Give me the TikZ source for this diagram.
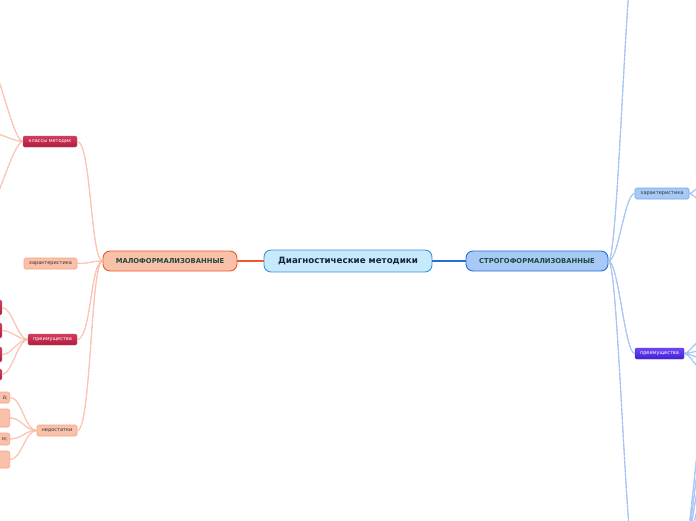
\documentclass[tikz,border=0pt]{standalone}
\usepackage{fontspec}
\setmainfont{DejaVu Sans}
\definecolor{rootfill}{HTML}{C6E9FB}
\definecolor{rootline}{HTML}{3C93D8}
\definecolor{rootink}{HTML}{16243F}
\definecolor{greenink}{HTML}{1F4A3B}
\definecolor{salmon}{HTML}{F9C0AA}
\definecolor{salmonline}{HTML}{F7A385}
\definecolor{orangeline}{HTML}{EC5A2C}
\definecolor{skyfill}{HTML}{A6C9F5}
\definecolor{skyline}{HTML}{2A6CD6}
\definecolor{twigblue}{HTML}{78A6EE}
\definecolor{crimsontop}{HTML}{D43C5E}
\definecolor{crimsonbot}{HTML}{AE1D3B}
\definecolor{violettop}{HTML}{6E48F0}
\definecolor{violetbot}{HTML}{4520D6}
\tikzset{
  root/.style={draw=rootline, fill=rootfill, line width=0.9pt, rounded corners=7pt,
    minimum width=168pt, minimum height=22pt, inner sep=0pt, text=rootink,
    font=\fontsize{8.7}{10}\selectfont\bfseries},
  mainl/.style={draw=orangeline, fill=salmon, line width=0.9pt, rounded corners=7pt,
    minimum height=20pt, inner sep=0pt, text=greenink,
    font=\fontsize{6.8}{8}\selectfont\bfseries},
  mainr/.style={mainl, draw=skyline, fill=skyfill},
  leaf/.style={rounded corners=1.5pt, minimum height=11pt, inner sep=0pt,
    font=\fontsize{5}{6}\selectfont},
  leafred/.style={leaf, top color=crimsontop, bottom color=crimsonbot, draw=crimsonbot!80!white,
    text=white},
  leafpale/.style={leaf, fill=salmon, draw=salmonline, line width=0.6pt, text=black!80},
  leafblue/.style={leaf, fill=skyfill, draw=twigblue, line width=0.6pt, text=black!80},
  leafviolet/.style={leaf, top color=violettop, bottom color=violetbot, draw=violetbot, text=white},
  cutleaf/.style={leafpale, text width=36pt, align=right, inner xsep=2pt, anchor=east},
  twigl/.style={draw=salmonline, line width=0.35pt, double=salmon!40!white, double distance=0.35pt},
  twigr/.style={draw=twigblue, line width=0.35pt, double=skyfill!40!white, double distance=0.35pt},
}

\begin{document}
\begin{tikzpicture}[x=1pt, y=-1pt]
  \useasboundingbox (0,0) rectangle (696,520);
  \clip (0,0) rectangle (696,520);

  \node[root] (diag) at (348,261) {Диагностические методики};
  \node[mainl, minimum width=134pt] (malo) at (170,261) {МАЛОФОРМАЛИЗОВАННЫЕ};
  \node[mainr, minimum width=142pt] (strogo) at (537,261) {СТРОГОФОРМАЛИЗОВАННЫЕ};

  \draw[orangeline, line width=1.2pt] (diag.west) -- (malo.east);
  \draw[skyline, line width=1.2pt] (diag.east) -- (strogo.west);

  % left branch
  \node[leafred, minimum width=54pt] (klassy) at (50,141.5) {классы методик};
  \node[leafpale, minimum width=53pt] (harl) at (50.5,263.5) {характеристика};
  \node[leafred, minimum width=49pt] (preiml) at (52.5,339.5) {преимущества};
  \node[leafpale, minimum width=40pt] (nedost) at (57,430.5) {недостатки};

  \foreach \n in {klassy,harl,preiml,nedost}
    \draw[twigl] (malo.west) .. controls +(-12,0) and +(14,0) .. (\n.east);

  \coordinate (km1) at (-14,55);
  \coordinate (km2) at (-14,131);
  \coordinate (km3) at (-14,212);
  \foreach \n in {km1,km2,km3}
    \draw[twigl] (klassy.west) .. controls +(-10,0) and +(10,0) .. (\n);

  \node[leafred, minimum width=40pt, minimum height=15pt, anchor=east] (pr1) at (2,307.5) {};
  \node[leafred, minimum width=40pt, minimum height=15pt, anchor=east] (pr2) at (2,330.5) {};
  \node[leafred, minimum width=40pt, minimum height=15pt, anchor=east] (pr3) at (2,354.5) {};
  \node[leafred, minimum width=40pt, minimum height=11pt, anchor=east] (pr4) at (2,374.5) {};
  \foreach \n in {pr1,pr2,pr3,pr4}
    \draw[twigl] (preiml.west) .. controls +(-10,0) and +(10,0) .. (\n.east);

  \node[cutleaf, minimum height=11pt] (nd1) at (10,397.5) {й;};
  \node[cutleaf, minimum height=18pt] (nd2) at (10,418) {};
  \node[cutleaf, minimum height=12pt] (nd3) at (10,439) {м;};
  \node[cutleaf, minimum height=17pt] (nd4) at (10,459.5) {};
  \foreach \n in {nd1,nd2,nd3,nd4}
    \draw[twigl] (nedost.west) .. controls +(-12,0) and +(12,0) .. (\n.east);

  % right branch
  \node[leafblue, minimum width=54pt] (harr) at (662,193.5) {характеристика};
  \node[leafviolet, minimum width=49pt] (preimr) at (659.5,353.5) {преимущества};
  \coordinate (stop) at (636,-60);
  \coordinate (sbotl) at (636,575);
  \coordinate (sbotr) at (683,560);

  \foreach \n in {harr.west,preimr.west,stop,sbotl}
    \draw[twigr] (strogo.east) .. controls +(10,0) and +(-10,0) .. (\n);

  \foreach \y in {172,214}
    \draw[twigr] (harr.east) .. controls +(6,0) and +(-8,0) .. (716,\y);
  \foreach \y in {328,348,362,382}
    \draw[twigr] (preimr.east) .. controls +(6,0) and +(-8,0) .. (714,\y);
  \foreach \y in {428,452,474,498}
    \draw[twigr] (sbotr) .. controls +(5,0) and +(-3,0) .. (701,\y);
\end{tikzpicture}
\end{document}
